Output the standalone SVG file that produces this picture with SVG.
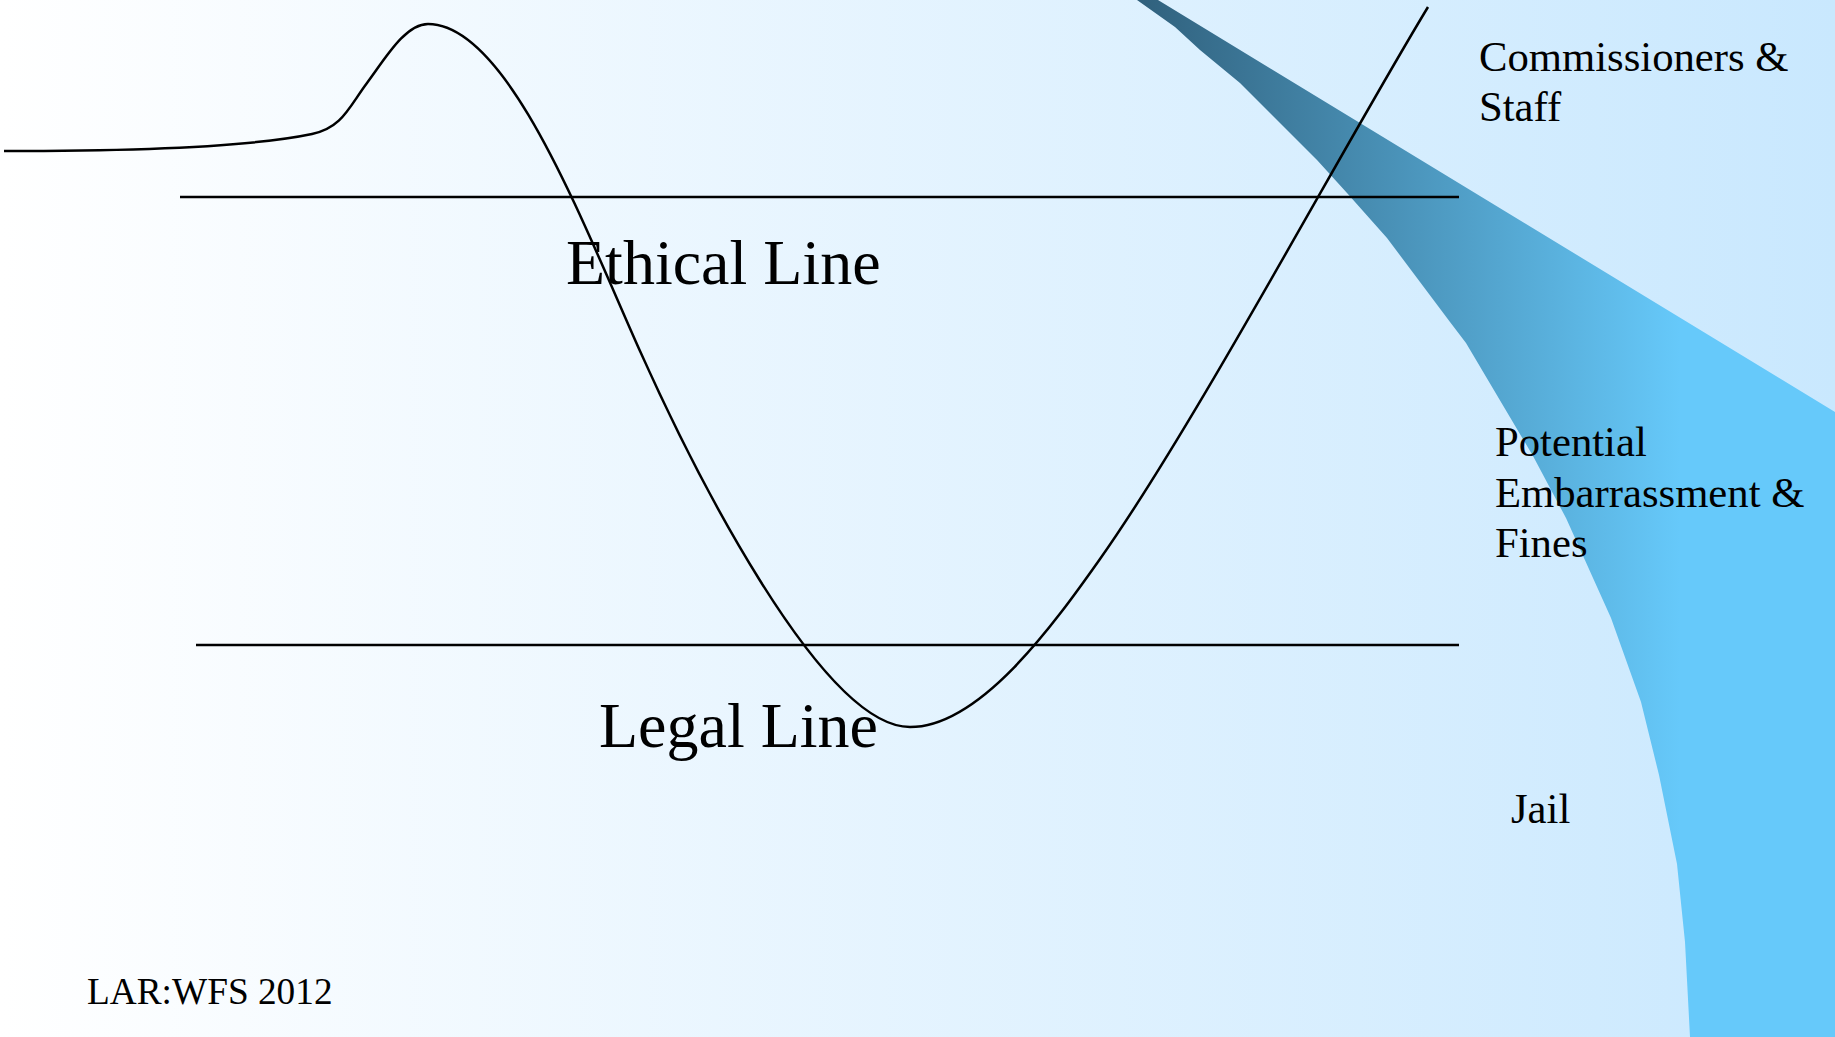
<svg xmlns="http://www.w3.org/2000/svg" width="1835" height="1037" viewBox="0 0 1835 1037">
<defs>
<linearGradient id="bg" x1="0" y1="0" x2="1835" y2="0" gradientUnits="userSpaceOnUse">
<stop offset="0" stop-color="#FFFFFF"/>
<stop offset="1" stop-color="#C9E8FE"/>
</linearGradient>
<linearGradient id="sw" x1="1137" y1="0" x2="1680" y2="0" gradientUnits="userSpaceOnUse">
<stop offset="0" stop-color="#30607C"/>
<stop offset="1" stop-color="#66C9FA"/>
</linearGradient>
<style>
.ln{fill:none;stroke:#000;stroke-width:2.5}
.big{font-family:"Liberation Serif","Times New Roman",serif;font-size:64px;fill:#000}
.mid{font-family:"Liberation Serif","Times New Roman",serif;font-size:42.7px;fill:#000}
.sm{font-family:"Liberation Serif","Times New Roman",serif;font-size:37.3px;fill:#000}
</style>
</defs>
<rect x="0" y="0" width="1835" height="1037" fill="url(#bg)"/>
<g id="swoosh">
<path fill="url(#sw)" d="M1137,0 L1158,0 L1835,412 L1835,1037 L1690,1037 L1685,942 L1677,864 L1659,775 L1641,702 L1611,618 L1566,518 L1533,456 L1466,343 L1450,322 L1387,238 L1347,193 L1317,160 L1297,140 L1240,83 L1200,50 L1175,27 Z"/>
</g>
<g id="labels-text">
<text class="big" x="566" y="284">Ethical Line</text>
<text class="big" x="599" y="747">Legal Line</text>
<text class="mid" x="1479" y="71">Commissioners &amp;</text>
<text class="mid" x="1479" y="121">Staff</text>
<text class="mid" x="1495" y="456">Potential</text>
<text class="mid" x="1495" y="507">Embarrassment &amp;</text>
<text class="mid" x="1495" y="557">Fines</text>
<text class="mid" x="1511" y="823">Jail</text>
<text class="sm" x="87" y="1004">LAR:WFS 2012</text>
</g>
<g id="connectors">
<line id="ethical-line" class="ln" x1="180" y1="197" x2="1459" y2="197"/>
<line id="legal-line" class="ln" x1="196" y1="645" x2="1459" y2="645"/>
<path id="behaviour-curve" class="ln" d="M4,151 C150,151 260,145 312,134 C342,128 349,107 367,83 C385,59 405,24 428,24 C508,24 582.7,223.3 640,351 C689.1,460.4 820,727 910,727 C980,727 1053.9,624.4 1100,559 C1196.8,421.7 1341,150.6 1428,7"/>
</g>
</svg>
